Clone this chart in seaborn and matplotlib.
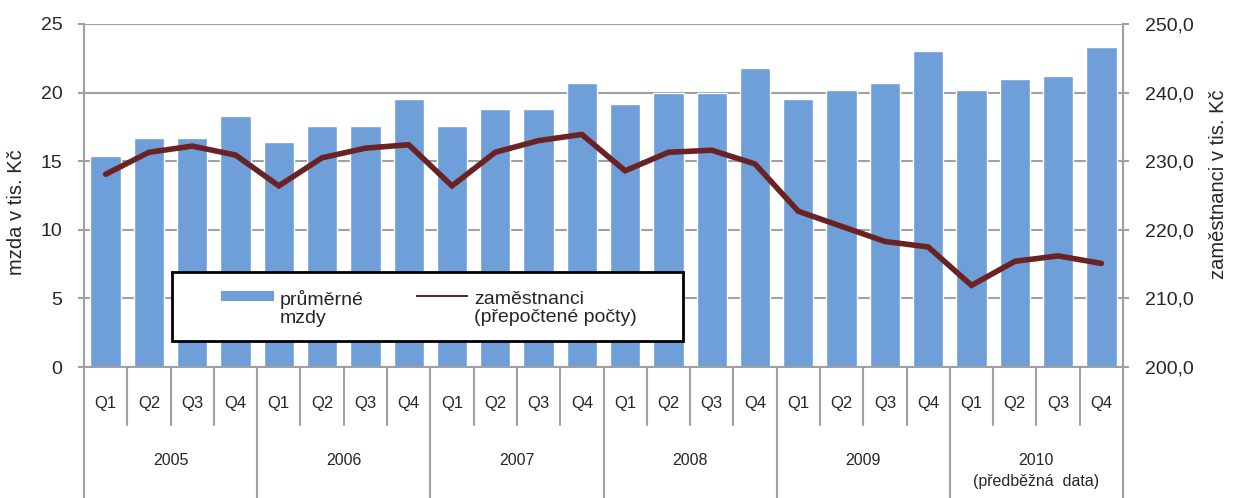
import matplotlib
matplotlib.use("Agg")
import matplotlib.pyplot as plt
import matplotlib.transforms as mtransforms
from matplotlib.patches import Patch, Rectangle
from matplotlib.legend_handler import HandlerPatch
import seaborn as sns
import numpy as np
import pandas as pd

# data
years = ["2005", "2006", "2007", "2008", "2009", "2010"]
quarters = ["Q1", "Q2", "Q3", "Q4"]
mzdy = [15.4, 16.7, 16.7, 18.3,
        16.4, 17.6, 17.6, 19.5,
        17.6, 18.8, 18.8, 20.7,
        19.2, 20.0, 20.0, 21.8,
        19.5, 20.2, 20.7, 23.0,
        20.2, 21.0, 21.2, 23.3]
zamestnanci = [228.1, 231.3, 232.2, 230.9,
               226.4, 230.5, 231.9, 232.4,
               226.4, 231.3, 233.0, 233.9,
               228.6, 231.3, 231.6, 229.6,
               222.7, 220.5, 218.3, 217.5,
               211.9, 215.4, 216.2, 215.1]

labels = [f"{y} {q}" for y in years for q in quarters]
df = pd.DataFrame({"obdobi": labels, "mzdy": mzdy, "zam": zamestnanci})
df["pos"] = np.arange(len(df))

sns.set_style("white")
plt.rcParams['font.family'] = ['Liberation Sans', 'DejaVu Sans']

bar_color = "#6E9FD9"
line_color = "#6B2222"
grid_color = "#A0A0A0"

fig = plt.figure(figsize=(12.42, 4.98), dpi=100)
ax = fig.add_axes([84 / 1242, 131 / 498, 1039 / 1242, 343 / 498])

sns.barplot(data=df, x="obdobi", y="mzdy", color=bar_color, width=0.7,
            saturation=1, ax=ax, zorder=2)
ax.set_ylim(0, 25)
ax.set_xlim(-0.5, len(df) - 0.5)
ax.set_yticks([0, 5, 10, 15, 20, 25])
ax.yaxis.grid(True, color=grid_color, linewidth=1.5, zorder=0)
ax.set_axisbelow(True)
ax.set_xticks([])
ax.set_xlabel("")
ax.set_ylabel("mzda v tis. Kč", fontsize=14.5)
ax.yaxis.set_label_coords(-0.0558, 0.452)
ax.tick_params(axis="y", labelsize=14, length=4.5, width=1.5, color=grid_color,
               direction="out", left=True, pad=11)
for s in ["top", "bottom"]:
    ax.spines[s].set_visible(False)
ax.spines["left"].set_color(grid_color)
ax.spines["left"].set_linewidth(1.5)
ax.spines["right"].set_color(grid_color)
ax.spines["right"].set_linewidth(1.5)

ax2 = ax.twinx()
sns.lineplot(x=df["pos"], y=df["zam"], color=line_color, linewidth=4, ax=ax2,
             solid_joinstyle="miter")
ax2.set_ylim(200, 250)
ax2.set_xlim(-0.5, len(df) - 0.5)
ax2.set_yticks([200, 210, 220, 230, 240, 250])
ax2.set_yticklabels([f"{v:.1f}".replace(".", ",") for v in range(200, 251, 10)])
ax2.set_xlabel("")
ax2.set_ylabel("zaměstnanci v tis. Kč", fontsize=14.5)
ax2.yaxis.set_label_coords(1.0828, 0.532)
ax2.tick_params(axis="y", labelsize=14, length=4.5, width=1.5, color=grid_color,
                direction="out", right=True, pad=11)
for s in ["top", "bottom", "left"]:
    ax2.spines[s].set_visible(False)
ax2.spines["right"].set_color(grid_color)
ax2.spines["right"].set_linewidth(1.5)

# bottom line of axis
trans = mtransforms.blended_transform_factory(ax.transData, ax.transAxes)
ax.plot([-0.5, len(df) - 0.5], [0, 0], color=grid_color, linewidth=1.5,
        transform=trans, clip_on=False, zorder=3)

# hierarchical category labels
for i in range(len(df)):
    ax.text(i, -0.105, quarters[i % 4], transform=trans, ha="center", va="center", fontsize=12)
for i in range(len(df) + 1):
    bottom = -0.382 if i % 4 == 0 else -0.169
    ax.plot([i - 0.5, i - 0.5], [0, bottom], color=grid_color, linewidth=1.5,
            transform=trans, clip_on=False)
for j, y in enumerate(years):
    cx = j * 4 + 1.5
    ax.text(cx, -0.274, y, transform=trans, ha="center", va="center", fontsize=11.5)
    if y == "2010":
        ax.text(cx, -0.335, "(předběžná  data)", transform=trans, ha="center",
                va="center", fontsize=11.5)


# legend handles sit at the first text line
def top_rect(h):
    def make(legend, orig_handle, xdescent, ydescent, width, height, fontsize):
        return Rectangle((-xdescent, -ydescent + height / 2 - h / 2 + 9), width, h)
    return make


handles = [Patch(facecolor=bar_color, edgecolor="none"),
           Patch(facecolor=line_color, edgecolor="none")]
leg = ax2.legend(handles, ["průměrné\nmzdy", "zaměstnanci\n(přepočtené počty)"],
                 ncol=2, loc="upper left", bbox_to_anchor=(0.1319, 0.2246),
                 fontsize=14, frameon=False, handlelength=2.7,
                 borderpad=0, columnspacing=2.7, handletextpad=0.3, borderaxespad=0,
                 handler_map={handles[0]: HandlerPatch(patch_func=top_rect(7)),
                              handles[1]: HandlerPatch(patch_func=top_rect(1.5))})
for t in leg.get_texts():
    t.set_linespacing(1.1)
leg.set_zorder(6)
frame = Rectangle((0.0847, 0.0758), 0.4918, 0.201, transform=ax2.transAxes,
                  facecolor="white", edgecolor="black", linewidth=2, zorder=5)
ax2.add_patch(frame)

fig.savefig("out.png", dpi=100)
